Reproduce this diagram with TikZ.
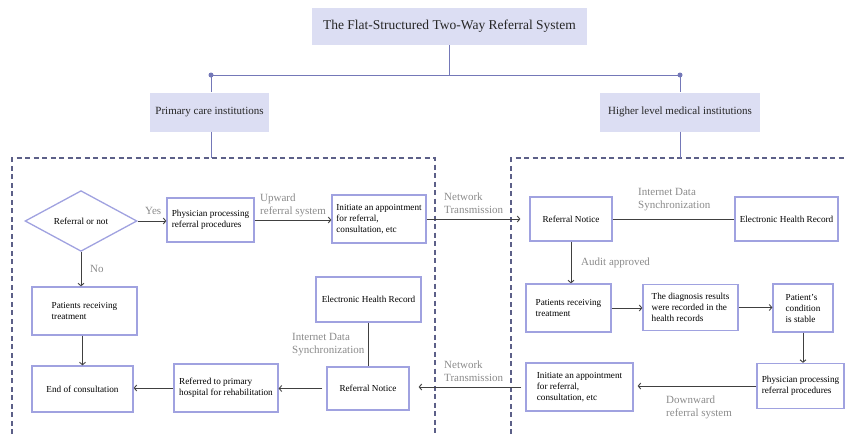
\documentclass[tikz,border=0pt]{standalone}
\usepackage{fontspec}
\setmainfont{Liberation Serif}
\usetikzlibrary{shapes.geometric,arrows.meta}
\definecolor{hdrfill}{HTML}{DCDEF3}
\definecolor{boxline}{HTML}{A0A2E0}
\definecolor{treeline}{HTML}{7478B8}
\definecolor{dashcol}{HTML}{5C6088}
\definecolor{lblgray}{HTML}{8A8A8A}
\begin{document}
\begin{tikzpicture}[x=1pt,y=-1pt,
  hdr/.style={fill=hdrfill, text=black!85, font=\fontsize{11}{13}\selectfont, inner sep=0pt},
  box/.style={draw=boxline, line width=1.3pt, fill=white, text=black, font=\fontsize{9.2}{11}\selectfont, align=left, inner sep=0pt},
  lbl/.style={text=lblgray, font=\fontsize{11}{13}\selectfont, align=left, inner sep=0pt, anchor=west},
  conn/.style={draw=black!75, line width=0.9pt},
  arr/.style={conn, -{Straight Barb[length=2.5pt,width=6pt]}},
  tree/.style={draw=treeline, line width=1pt},
  dashbox/.style={draw=dashcol, line width=1.2pt, dash pattern=on 5pt off 3.5pt}]
\useasboundingbox (0,0) rectangle (845,434);

% dashed regions
\draw[dashbox] (12,434) -- (12,158) -- (435,158) -- (435,434);
\draw[dashbox] (511,434) -- (511,158) -- (845,158);

% header tree
\node[hdr, font=\fontsize{13.5}{15}\selectfont, minimum width=275pt, minimum height=37pt] (T) at (449.5,26.5) {The Flat-Structured Two-Way Referral System};
\node[hdr, minimum width=119pt, minimum height=39pt] (PC) at (209.5,112) {Primary care institutions};
\node[hdr, minimum width=160pt, minimum height=39pt] (HC) at (680,112) {Higher level medical institutions};
\coordinate (jL) at (211,75);
\coordinate (jR) at (680,75);
\coordinate (dL) at (211,158);
\coordinate (dR) at (680,158);
\draw[tree] (T.south) -- (T.south |- jL);
\draw[tree] (jL) -- (jR);
\draw[tree] (jL) -- (jL |- PC.north);
\draw[tree] (jR) -- (jR |- HC.north);
\draw[tree] (PC.south -| dL) -- (dL);
\draw[tree] (HC.south -| dR) -- (dR);
\fill[treeline] (jL) circle (2.5pt);
\fill[treeline] (jR) circle (2.5pt);

% left side
\node[box, diamond, minimum width=112pt, minimum height=60pt, align=center] (D) at (81,221) {Referral or not};
\node[box, minimum width=87pt, minimum height=44pt] (P1) at (210.5,220) {Physician processing\\referral procedures};
\node[box, minimum width=94pt, minimum height=48pt] (I1) at (379,219) {Initiate an appointment\\for referral,\\consultation, etc};
\node[box, minimum width=105pt, minimum height=48pt] (PL) at (84.5,311) {Patients receiving\\treatment};
\node[box, minimum width=101pt, minimum height=46pt] (E) at (82.5,389) {End of consultation};
\node[box, minimum width=104pt, minimum height=48pt] (R1) at (226,388) {Referred to primary\\hospital for rehabilitation};
\node[box, minimum width=105pt, minimum height=45pt] (H1) at (368.5,299.5) {Electronic Health Record};
\node[box, minimum width=82pt, minimum height=43pt] (N1) at (368,388.5) {Referral Notice};

% right side
\node[box, minimum width=82pt, minimum height=44pt] (N2) at (571,219) {Referral Notice};
\node[box, minimum width=103pt, minimum height=44pt] (H2) at (786.5,219) {Electronic Health Record};
\node[box, minimum width=85pt, minimum height=48pt] (PR) at (568.5,308) {Patients receiving\\treatment};
\node[box, minimum width=95pt, minimum height=46pt] (DG) at (690.5,307.5) {The diagnosis results\\were recorded in the\\health records};
\node[box, minimum width=60pt, minimum height=48pt] (SC) at (803,308) {Patient's\\condition\\is stable};
\node[box, minimum width=87pt, minimum height=45pt] (P2) at (800.5,386) {Physician processing\\referral procedures};
\node[box, minimum width=107pt, minimum height=48pt] (I2) at (579.5,387) {Initiate an appointment\\for referral,\\consultation, etc};

% connectors left
\draw[arr] (D.east) -- (D.east -| P1.west);
\draw[arr] (P1.east) -- (P1.east -| I1.west);
\draw[arr] (D.south) -- (D.south |- PL.north);
\draw[arr] (PL.south -| E.north) -- (E.north);
\draw[conn] (H1.south) -- (H1.south |- N1.north);
\draw[arr, shorten <=4pt] (N1.west) -- (N1.west -| R1.east);
\draw[arr] (R1.west) -- (R1.west -| E.east);

% connectors between / right
\draw[arr, shorten >=9pt] (I1.east) -- (I1.east -| N2.west);
\draw[conn] (N2.east) -- (N2.east -| H2.west);
\draw[arr] (N2.south) -- (N2.south |- PR.north);
\draw[arr] (PR.east) -- (PR.east -| DG.west);
\draw[arr] (DG.east) -- (DG.east -| SC.west);
\draw[arr] (SC.south) -- (SC.south |- P2.north);
\draw[arr, shorten >=4pt] (P2.west) -- (P2.west -| I2.east);
\draw[arr, shorten <=4pt, shorten >=9pt] (I2.west) -- (I2.west -| N1.east);

% labels
\node[lbl] (lyes) at (145,211) {Yes};
\node[lbl] (lno) at (90,269) {No};
\node[lbl] (lup) at (260,205.5) {Upward\\referral system};
\node[lbl] (lsync1) at (292,344.5) {Internet Data\\Synchronization};
\node[lbl] (lnet1) at (444,203.5) {Network\\Transmission};
\node[lbl] (lnet2) at (444,371.5) {Network\\Transmission};
\node[lbl] (lsync2) at (638,200) {Internet Data\\Synchronization};
\node[lbl] (laudit) at (581,263) {Audit approved};
\node[lbl] (ldown) at (666,407.5) {Downward\\referral system};
\end{tikzpicture}
\end{document}
